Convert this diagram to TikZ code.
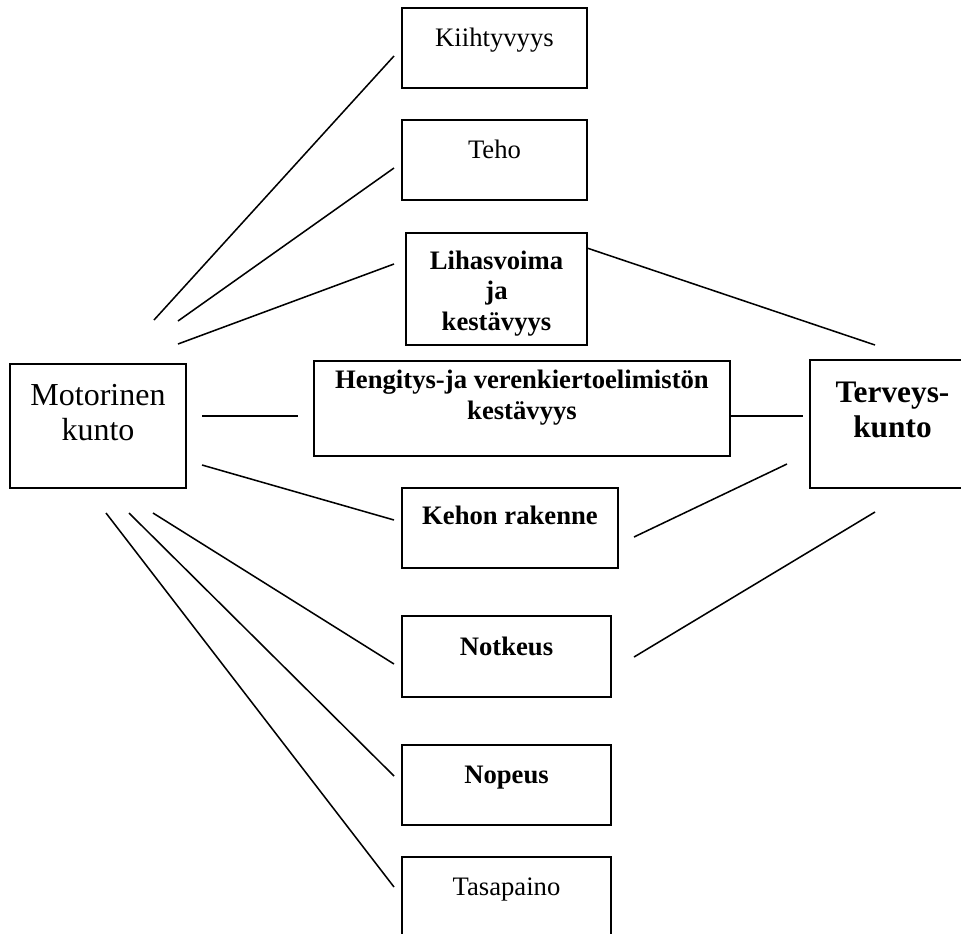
\documentclass[tikz,border=0pt]{standalone}
\usepackage{fontspec}
\setmainfont{Liberation Serif}
\usetikzlibrary{fit}

\begin{document}
\begin{tikzpicture}[x=0.75pt, y=-0.75pt,
  box/.style={draw, line width=1.4pt, inner sep=0pt, outer sep=0pt, rectangle},
  link/.style={line width=1.15pt},
  lbl/.style={anchor=base, inner sep=0pt, font=\fontsize{20}{24}\selectfont},
  lblb/.style={lbl, font=\fontsize{20}{24}\selectfont\bfseries},
  lblbig/.style={lbl, font=\fontsize{24}{28}\selectfont},
  lblbigb/.style={lbl, font=\fontsize{23.5}{28}\selectfont\bfseries}]
\useasboundingbox (0,0) rectangle (961,933);

% boxes
\node[box, fit={(402,8) (587,88)}] (kii) {};
\node[box, fit={(402,120) (587,200)}] (teho) {};
\node[box, fit={(406,233) (587,345)}] (lihas) {};
\node[box, fit={(314,361) (730,456)}] (heng) {};
\node[box, fit={(10,364) (186,488)}] (mot) {};
\node[box, fit={(810,360) (975,488)}] (terv) {};
\node[box, fit={(402,488) (618,568)}] (kehon) {};
\node[box, fit={(402,616) (611,697)}] (notk) {};
\node[box, fit={(402,745) (611,825)}] (nop) {};
\node[box, fit={(402,857) (611,940)}] (tasa) {};

% labels
\node[lbl] (kii-t) at (494.5,46) {Kiihtyvyys};
\node[lbl] (teho-t) at (494.5,158) {Teho};
\node[lblb] (lihas-t1) at (496.5,269) {Lihasvoima};
\node[lblb] (lihas-t2) at (496.5,299) {ja};
\node[lblb] (lihas-t3) at (496.5,330) {kestävyys};
\node[lblb] (heng-t1) at (522,388) {Hengitys-ja verenkiertoelimistön};
\node[lblb] (heng-t2) at (522,419) {kestävyys};
\node[lblbig] (mot-t1) at (98,405) {Motorinen};
\node[lblbig] (mot-t2) at (98,440) {kunto};
\node[lblbigb] (terv-t1) at (892.5,402) {Terveys-};
\node[lblbigb] (terv-t2) at (892.5,437) {kunto};
\node[lblb] (kehon-t) at (510,524) {Kehon rakenne};
\node[lblb] (notk-t) at (506.5,655) {Notkeus};
\node[lblb] (nop-t) at (506.5,783) {Nopeus};
\node[lbl] (tasa-t) at (506.5,895) {Tasapaino};

% connector end points
\coordinate (m-kii) at (154,320);  \coordinate (kii-m) at (394,56);
\coordinate (m-teho) at (178,321); \coordinate (teho-m) at (394,168);
\coordinate (m-lihas) at (178,344); \coordinate (lihas-m) at (394,264);
\coordinate (m-heng) at (202,416); \coordinate (heng-m) at (298,416);
\coordinate (m-kehon) at (202,465); \coordinate (kehon-m) at (394,520);
\coordinate (m-notk) at (153,513); \coordinate (notk-m) at (394,664);
\coordinate (m-nop) at (129,513); \coordinate (nop-m) at (394,776);
\coordinate (m-tasa) at (106,513); \coordinate (tasa-m) at (394,887);
\coordinate (lihas-v) at (587,248); \coordinate (v-lihas) at (875,345);
\coordinate (heng-v) at (730,416); \coordinate (v-heng) at (803,416);
\coordinate (kehon-v) at (634,537); \coordinate (v-kehon) at (787,464);
\coordinate (notk-v) at (634,657); \coordinate (v-notk) at (875,512);

% connectors
\draw[link] (m-kii) -- (kii-m);
\draw[link] (m-teho) -- (teho-m);
\draw[link] (m-lihas) -- (lihas-m);
\draw[link] (m-heng) -- (heng-m);
\draw[link] (m-kehon) -- (kehon-m);
\draw[link] (m-notk) -- (notk-m);
\draw[link] (m-nop) -- (nop-m);
\draw[link] (m-tasa) -- (tasa-m);
\draw[link] (lihas-v) -- (v-lihas);
\draw[link] (heng-v) -- (v-heng);
\draw[link] (kehon-v) -- (v-kehon);
\draw[link] (notk-v) -- (v-notk);
\end{tikzpicture}
\end{document}
